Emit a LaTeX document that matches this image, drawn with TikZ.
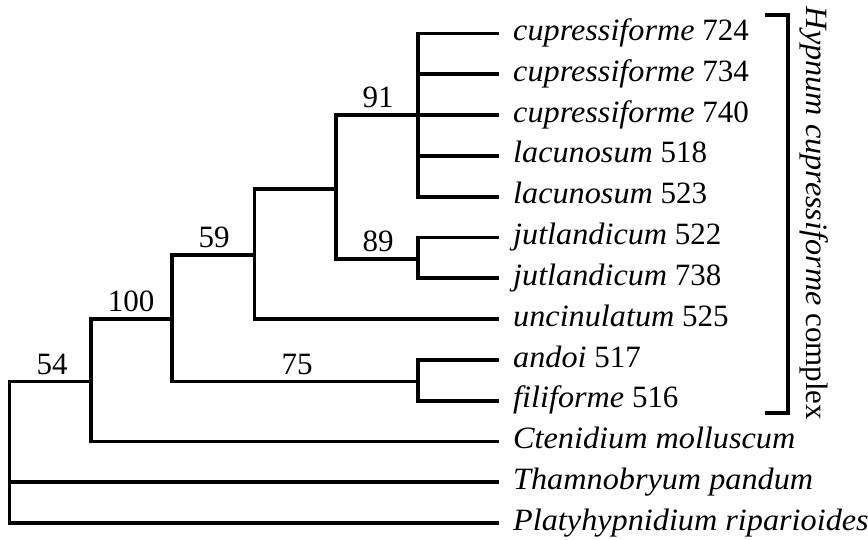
\documentclass[tikz,border=0pt]{standalone}
\usepackage{fontspec}
\setmainfont{Liberation Serif}[ItalicFeatures={FakeStretch=1.04}]
\begin{document}
\begin{tikzpicture}[x=1pt,y=-1pt,
  br/.style={line width=3.8pt,line join=miter,line cap=butt},
  leaf/.style={anchor=base west,inner sep=0pt,font=\fontsize{31}{31}\selectfont},
  supp/.style={anchor=base,inner sep=0pt,font=\fontsize{31}{31}\selectfont}]
\useasboundingbox (0,0) rectangle (868,540);
% leaf y positions
\foreach \i/\yy in {1/33.5,2/74.3,3/115.1,4/155.9,5/196.7,6/237.5,7/278.3,8/319.1,9/359.9,10/400.7,11/441.5,12/482.3,13/523.1}{
  \coordinate (t\i) at (499,\yy);
}
% leaf labels
\node[leaf] (l1) at (513,40.6) {\textit{cupressiforme} 724};
\node[leaf] (l2) at (513,81.4) {\textit{cupressiforme} 734};
\node[leaf] (l3) at (513,122.2) {\textit{cupressiforme} 740};
\node[leaf] (l4) at (513,163.0) {\textit{lacunosum} 518};
\node[leaf] (l5) at (513,203.8) {\textit{lacunosum} 523};
\node[leaf] (l6) at (513,244.6) {\textit{jutlandicum} 522};
\node[leaf] (l7) at (513,285.4) {\textit{jutlandicum} 738};
\node[leaf] (l8) at (513,326.2) {\textit{uncinulatum} 525};
\node[leaf] (l9) at (513,367.0) {\textit{andoi} 517};
\node[leaf] (l10) at (513,407.8) {\textit{filiforme} 516};
\node[leaf] (l11) at (513,448.6) {\textit{Ctenidium molluscum}};
\node[leaf] (l12) at (513,489.4) {\textit{Thamnobryum pandum}};
\node[leaf] (l13) at (513,530.2) {\textit{Platyhypnidium riparioides}};
% internal nodes
\coordinate (root) at (9.5,450);
\coordinate (n54) at (91,381.5);
\coordinate (n100) at (172,319.1);
\coordinate (n59) at (254.5,255);
\coordinate (n75) at (418,381.5);
\coordinate (nA) at (336,189);
\coordinate (n91) at (418,115.1);
\coordinate (n89) at (418,259);
% edges
\draw[br] (root) |- (n54);
\draw[br] (root) |- (t12);
\draw[br] (root) |- (t13);
\draw[br] (n54) |- (n100);
\draw[br] (n54) |- (t11);
\draw[br] (n100) |- (n59);
\draw[br] (n100) |- (n75);
\draw[br] (n75) |- (t9);
\draw[br] (n75) |- (t10);
\draw[br] (n59) |- (nA);
\draw[br] (n59) |- (t8);
\draw[br] (nA) |- (n91);
\draw[br] (nA) |- (n89);
\foreach \k in {1,...,5}{\draw[br] (n91) |- (t\k);}
\draw[br] (n89) |- (t6);
\draw[br] (n89) |- (t7);
% support values
\node[supp] (s54) at (52,374) {54};
\node[supp] (s100) at (131,311.6) {100};
\node[supp] (s75) at (297,374) {75};
\node[supp] (s59) at (214,247.5) {59};
\node[supp] (s91) at (378,107.6) {91};
\node[supp] (s89) at (378,251.5) {89};
% bracket
\coordinate (bt) at (765,15);
\coordinate (bb) at (765,413);
\draw[line width=3.8pt,line join=miter] (bt) -- (788,15) -- (788,413) -- (bb);
\node[anchor=base,inner sep=0pt,rotate=-90,font=\fontsize{31}{31}\selectfont] (clade) at (806,213.5) {\textit{Hypnum cupressiforme} complex};
\end{tikzpicture}
\end{document}
